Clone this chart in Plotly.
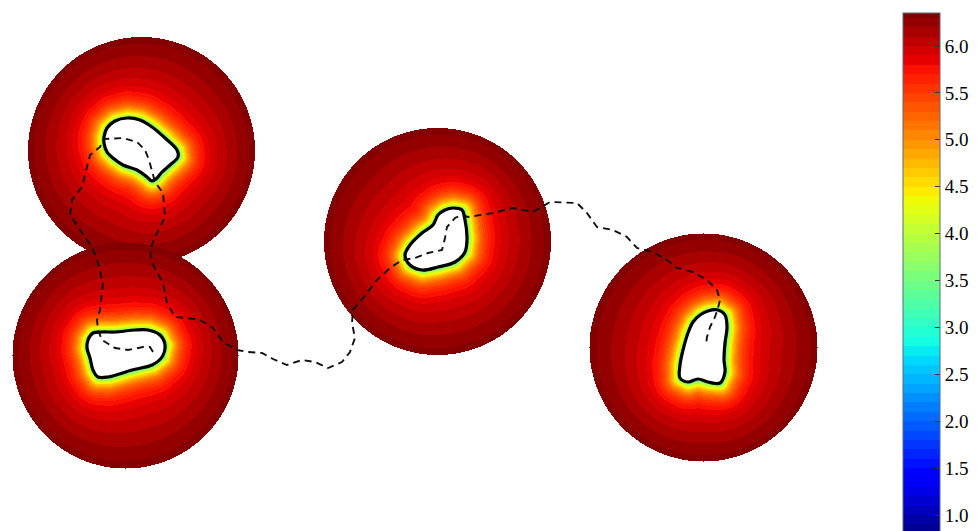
import numpy as np
import plotly.graph_objects as go

# discs (pixel units, y downwards)
disc_x = [141, 125, 437, 703]
disc_y = [150, 355, 241, 347]
disc_r = [113.5, 113, 113.5, 114]

# hole outlines, one per disc
hole1_x = [104, 107, 115, 127, 140, 152, 165, 177, 178, 170, 162, 157, 152, 147, 137, 123, 113, 107, 104]
hole1_y = [137, 128, 121, 118, 120, 127, 138, 150, 157, 165, 172, 178, 181, 177, 170, 165, 158, 152, 143]
hole2_x = [88, 93, 102, 115, 135, 148, 160, 165, 162, 152, 132, 108, 98, 93, 90, 87]
hole2_y = [340, 333, 332, 332, 330, 330, 335, 345, 357, 365, 370, 377, 377, 370, 358, 348]
hole3_x = [445, 453, 462, 465, 467, 465, 455, 438, 422, 410, 405, 410, 422, 433, 438]
hole3_y = [210, 208, 210, 220, 238, 252, 262, 267, 270, 265, 255, 245, 233, 225, 215]
hole4_x = [700, 708, 718, 725, 727, 725, 724, 725, 720, 708, 698, 688, 680, 680, 683, 688, 693]
hole4_y = [315, 311, 310, 315, 327, 343, 360, 372, 383, 382, 379, 382, 378, 365, 350, 333, 322]
holes = [(hole1_x, hole1_y), (hole2_x, hole2_y), (hole3_x, hole3_y), (hole4_x, hole4_y)]

# dashed trajectory
path_x = [153, 150, 143, 128, 115, 102, 98, 97, 100, 103, 98, 92, 80, 70, 72, 82, 90, 100,
          104, 123, 137, 145, 149, 152, 155, 163, 165, 155, 150, 152, 163, 167, 175, 187, 200,
          213, 223, 237, 248, 262, 273, 287, 302, 315, 328, 342, 350, 355, 352, 353, 363, 377,
          390, 402, 415, 428, 442, 445, 447, 455, 462, 468, 482, 493, 513, 533, 550, 577, 587,
          597, 613, 627, 637, 653, 667, 677, 693, 707, 717, 720, 718, 715, 710, 707, 706]
path_y = [352, 347, 347, 350, 348, 340, 330, 320, 310, 283, 263, 247, 230, 215, 200, 187, 155, 147,
          139, 138, 142, 150, 160, 172, 182, 193, 217, 237, 250, 263, 283, 303, 317, 318, 320,
          328, 342, 350, 352, 353, 359, 365, 360, 362, 368, 362, 352, 338, 323, 310, 298, 280,
          268, 260, 258, 253, 250, 238, 227, 218, 215, 217, 215, 213, 208, 212, 202, 203, 213,
          227, 230, 237, 248, 252, 260, 268, 272, 280, 290, 300, 308, 317, 327, 337, 345]

cmin, cmax = 0.755, 6.352
v_hole = 3.2
bar_ticks = [1.0, 1.5, 2.0, 2.5, 3.0, 3.5, 4.0, 4.5, 5.0, 5.5, 6.0]


def poly_dist(px, py, xs, ys):
    d = np.full(px.shape, np.inf)
    inside = np.zeros(px.shape, bool)
    n = len(xs)
    for i in range(n):
        x0, y0 = xs[i], ys[i]
        x1, y1 = xs[(i + 1) % n], ys[(i + 1) % n]
        dx, dy = x1 - x0, y1 - y0
        t = np.clip(((px - x0) * dx + (py - y0) * dy) / (dx * dx + dy * dy), 0, 1)
        d = np.minimum(d, np.hypot(px - x0 - t * dx, py - y0 - t * dy))
        if dy != 0:
            cross = ((y0 > py) != (y1 > py)) & (px < x0 + (py - y0) * dx / dy)
            inside ^= cross
    return d, inside


def jet(t):
    r = np.interp(t, [0, 0.35, 0.66, 0.89, 1], [0, 0, 1, 1, 0.5])
    g = np.interp(t, [0, 0.125, 0.375, 0.64, 0.91, 1], [0, 0, 1, 1, 0, 0])
    b = np.interp(t, [0, 0.11, 0.34, 0.65, 1], [0.5, 1, 1, 0, 0])
    return "rgb(%d,%d,%d)" % (r * 255, g * 255, b * 255)


# banded jet colour scale (0.1 wide levels)
bounds = np.concatenate([[cmin], np.arange(0.8, cmax, 0.1), [cmax]])
colorscale = []
for lo, hi in zip(bounds[:-1], bounds[1:]):
    c = jet(((lo + hi) / 2 - cmin) / (cmax - cmin))
    colorscale.append([(lo - cmin) / (cmax - cmin), c])
    colorscale.append([(hi - cmin) / (cmax - cmin), c])
colorscale[-1][0] = 1.0

gx = np.arange(0, 830)
gy = np.arange(25, 480)
X, Y = np.meshgrid(gx, gy)
Z = np.full(X.shape, np.nan)
near = 2.5
far = cmax - v_hole - near
for cx, cy, r, (hx, hy) in zip(disc_x, disc_y, disc_r, holes):
    e = r - np.hypot(X - cx, Y - cy)
    ind = e >= 0
    d, inh = poly_dist(X[ind].astype(float), Y[ind].astype(float), hx, hy)
    ee = e[ind]
    deficit = near * np.exp(-d / 9.0) + far * ee / (d + ee)
    v = cmax - deficit
    v[inh] = v_hole
    Z[ind] = v

fig = go.Figure()
fig.add_trace(go.Heatmap(
    x=gx, y=gy, z=Z, zmin=cmin, zmax=cmax, colorscale=colorscale,
    hoverinfo="skip", zsmooth=False,
    colorbar=dict(
        x=903 / 978, xanchor="left", xpad=0, ypad=0,
        y=1 - 13 / 531, yanchor="top", lenmode="pixels", len=525,
        thickness=37, outlinewidth=1, outlinecolor="#5a6a78",
        tickmode="array", tickvals=bar_ticks, ticktext=["%.1f" % v for v in bar_ticks],
        ticks="inside", ticklen=5, tickcolor="#333333",
        tickfont=dict(family="Liberation Serif", size=19, color="black"),
    ),
))

for hx, hy in holes:
    fig.add_trace(go.Scatter(
        x=hx + hx[:1], y=hy + hy[:1], mode="lines", line_shape="spline",
        fill="toself", fillcolor="white",
        line=dict(color="black", width=3.2), hoverinfo="skip", showlegend=False,
    ))

fig.add_trace(go.Scatter(
    x=path_x, y=path_y, mode="lines",
    line=dict(color="#111111", width=1.9, dash="7px,5px"),
    hoverinfo="skip", showlegend=False,
))

fig.update_layout(
    width=978, height=531,
    margin=dict(l=0, r=0, t=0, b=0),
    paper_bgcolor="white", plot_bgcolor="white",
    xaxis=dict(range=[0, 978], visible=False),
    yaxis=dict(range=[531, 0], visible=False),
    showlegend=False,
)
fig.write_html("out.html", config={"displayModeBar": False},
               post_script="document.body.style.margin='0';")
